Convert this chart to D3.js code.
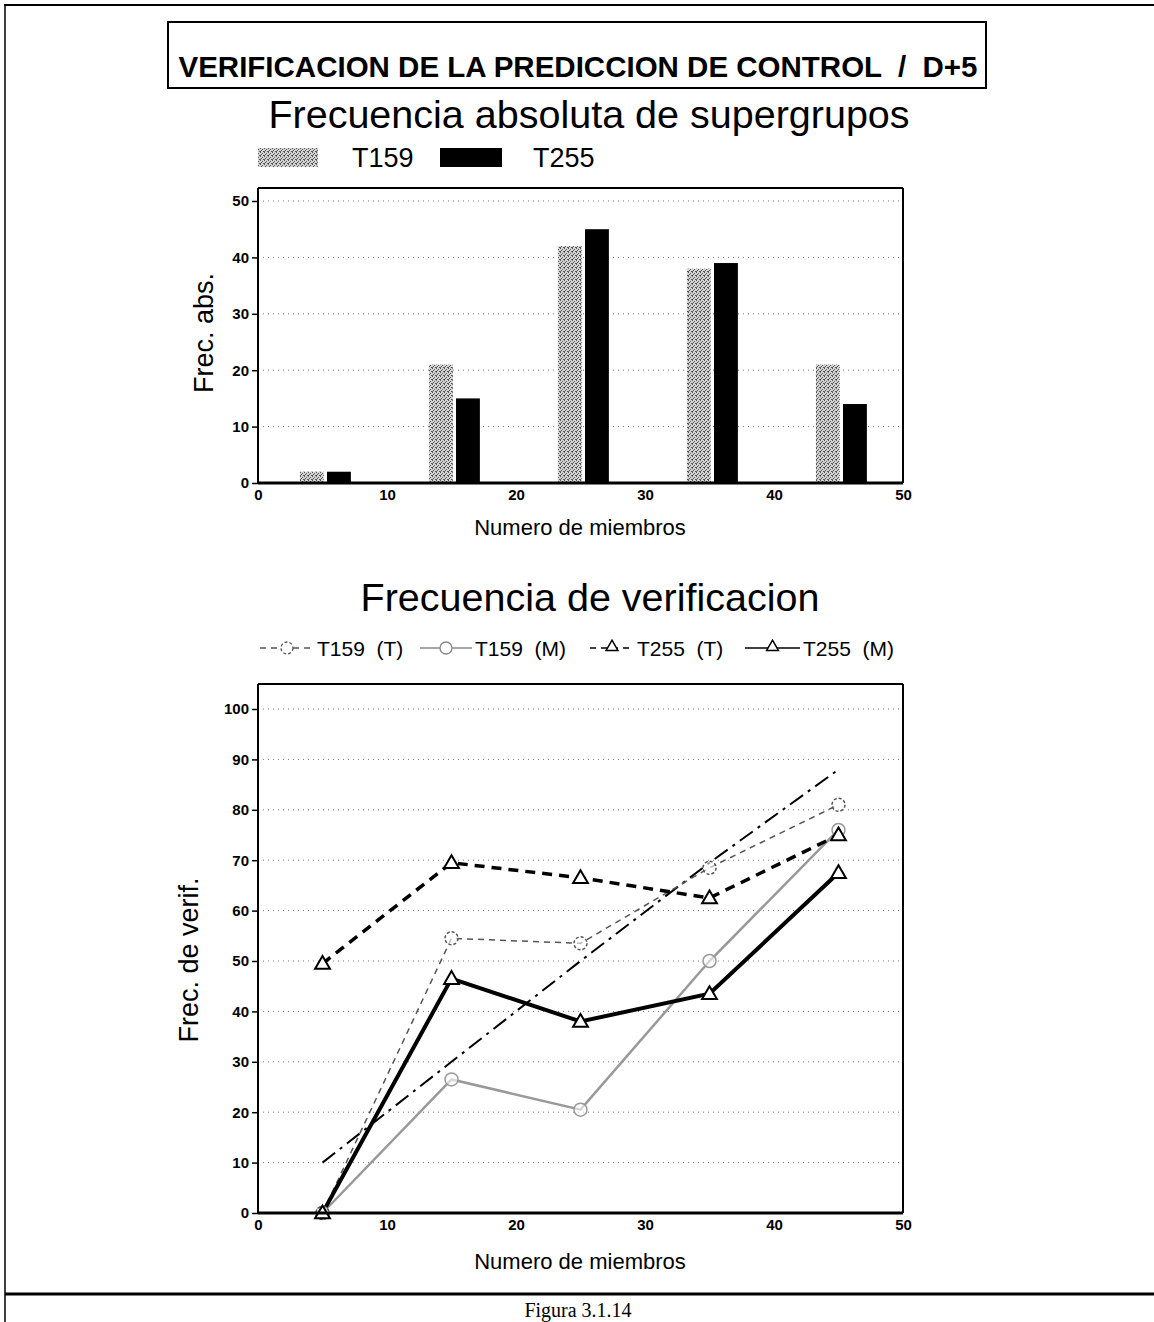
<!DOCTYPE html>
<html><head><meta charset="utf-8">
<script src="https://cdn.jsdelivr.net/npm/d3@7"></script>
<style>
html,body{margin:0;padding:0;background:#fff;}
svg text{font-family:"Liberation Sans",Arial,Helvetica,sans-serif;}
</style></head>
<body>
<script>
// ---------- DATA ----------
const memberSizes = [5, 15, 25, 35, 45];
const barT159 = [2, 21, 42, 38, 21];
const barT255 = [2, 15, 45, 39, 14];
const verT159T = [0, 54.5, 53.5, 68.5, 81];
const verT159M = [0, 26.5, 20.5, 50, 76];
const verT255T = [49.5, 69.5, 66.5, 62.5, 75];
const verT255M = [0, 46.5, 38, 43.5, 67.5];
const verRef = [10, 30, 50, 69.5, 88];
const xTicks = [0, 10, 20, 30, 40, 50];
const yTicksAbs = [0, 10, 20, 30, 40, 50];
const yTicksVer = [0, 10, 20, 30, 40, 50, 60, 70, 80, 90, 100];
const barLegend = ["T159", "T255"];
const lineLegend = ["T159  (T)", "T159  (M)", "T255  (T)", "T255  (M)"];

// ---------- SVG ----------
const W = 1154, H = 1322;
const svg = d3.select("body").append("svg").attr("width", W).attr("height", H);

const defs = svg.append("defs");
const pat = defs.append("pattern").attr("id", "stip").attr("patternUnits", "userSpaceOnUse")
  .attr("width", 4).attr("height", 4);
pat.append("rect").attr("width", 4).attr("height", 4).attr("fill", "#d4d4d4");
[[0,0],[2,1],[1,2],[3,3],[0,3]].forEach(([a,b]) =>
  pat.append("rect").attr("x", a).attr("y", b).attr("width", 1).attr("height", 1).attr("fill", "#555"));

// page frame
svg.append("line").attr("x1", 4).attr("x2", W).attr("y1", 5).attr("y2", 5).attr("stroke", "#000").attr("stroke-width", 2);
svg.append("line").attr("x1", 5).attr("x2", 5).attr("y1", 4).attr("y2", H).attr("stroke", "#000").attr("stroke-width", 1.5);
svg.append("line").attr("x1", 5).attr("x2", W).attr("y1", 1294).attr("y2", 1294).attr("stroke", "#000").attr("stroke-width", 3);
svg.append("text").attr("x", 578).attr("y", 1317).attr("text-anchor", "middle")
  .style("font-family", "'Liberation Serif','Times New Roman',serif").style("font-size", "20px")
  .text("Figura 3.1.14");

// title box
svg.append("rect").attr("x", 168).attr("y", 22).attr("width", 818).attr("height", 66)
  .attr("fill", "none").attr("stroke", "#000").attr("stroke-width", 2);
svg.append("text").attr("x", 578).attr("y", 77).attr("text-anchor", "middle")
  .style("font-size", "29.5px").style("font-weight", "bold").style("white-space", "pre")
  .text("VERIFICACION DE LA PREDICCION DE CONTROL  /  D+5");

// ---------- shared X ----------
const x = d3.scaleLinear().domain([0, 50]).range([258, 903]);

function frame(g, yTop, yBot, y, ticks) {
  g.selectAll(".grid").data(ticks.filter(d => d > 0)).join("line")
    .attr("x1", 258).attr("x2", 903).attr("y1", d => y(d)).attr("y2", d => y(d))
    .attr("stroke", "#777").attr("stroke-width", 1).attr("stroke-dasharray", "1,4");
  const ya = g.append("g").attr("transform", "translate(258,0)")
    .call(d3.axisLeft(y).tickValues(ticks).tickSize(6).tickPadding(3).tickFormat(d3.format("d")));
  ya.select(".domain").remove();
  ya.selectAll("text").style("font-size", "15px").style("font-weight", "bold")
    .style("font-family", "'Liberation Sans',Arial,sans-serif");
  ya.selectAll("line").attr("stroke-width", 1.5);
  const xa = g.append("g").attr("transform", `translate(0,${yBot})`)
    .call(d3.axisBottom(x).tickValues(xTicks).tickSize(0).tickPadding(6).tickFormat(d3.format("d")));
  xa.select(".domain").remove();
  xa.selectAll("text").style("font-size", "15px").style("font-weight", "bold")
    .style("font-family", "'Liberation Sans',Arial,sans-serif");
  g.append("line").attr("x1", 258).attr("x2", 903).attr("y1", yTop).attr("y2", yTop).attr("stroke", "#000").attr("stroke-width", 2);
  g.append("line").attr("x1", 903).attr("x2", 903).attr("y1", yTop).attr("y2", yBot).attr("stroke", "#000").attr("stroke-width", 2);
  g.append("line").attr("x1", 258).attr("x2", 258).attr("y1", yTop).attr("y2", yBot).attr("stroke", "#000").attr("stroke-width", 2);
}

// ---------- TOP CHART ----------
const gTop = svg.append("g");
gTop.append("text").attr("x", 589).attr("y", 128).attr("text-anchor", "middle")
  .style("font-size", "39.5px").text("Frecuencia absoluta de supergrupos");
gTop.append("rect").attr("x", 258).attr("y", 148).attr("width", 60).attr("height", 19).attr("fill", "url(#stip)");
gTop.append("text").attr("x", 352).attr("y", 167).style("font-size", "27px").text(barLegend[0]);
gTop.append("rect").attr("x", 440).attr("y", 148).attr("width", 62).attr("height", 19).attr("fill", "#000");
gTop.append("text").attr("x", 533).attr("y", 167).style("font-size", "27px").text(barLegend[1]);

const yA = d3.scaleLinear().domain([0, 50]).range([483, 201]);
frame(gTop, 188, 483, yA, yTicksAbs);
const bw = x(1.85) - x(0);
gTop.selectAll(".b1").data(memberSizes).join("rect")
  .attr("x", (d) => x(d - 1.75)).attr("width", bw)
  .attr("y", (d, i) => yA(barT159[i])).attr("height", (d, i) => yA(0) - yA(barT159[i]))
  .attr("fill", "url(#stip)");
gTop.selectAll(".b2").data(memberSizes).join("rect")
  .attr("x", (d) => x(d + 0.35)).attr("width", bw)
  .attr("y", (d, i) => yA(barT255[i])).attr("height", (d, i) => yA(0) - yA(barT255[i]))
  .attr("fill", "#000");
gTop.append("line").attr("x1", 258).attr("x2", 903).attr("y1", 483).attr("y2", 483).attr("stroke", "#000").attr("stroke-width", 3);
gTop.append("text").attr("transform", "translate(213,333) rotate(-90)").attr("text-anchor", "middle")
  .style("font-size", "27px").text("Frec. abs.");
gTop.append("text").attr("x", 580).attr("y", 535).attr("text-anchor", "middle")
  .style("font-size", "22px").text("Numero de miembros");

// ---------- BOTTOM CHART ----------
const gBot = svg.append("g");
gBot.append("text").attr("x", 590).attr("y", 611).attr("text-anchor", "middle")
  .style("font-size", "39.5px").text("Frecuencia de verificacion");
const yV = d3.scaleLinear().domain([0, 100]).range([1213, 709]);
frame(gBot, 684, 1213, yV, yTicksVer);

const series = [
  {vals: verRef, color: "#000", w: 2, dash: "16,6,3,6", marker: null},
  {vals: verT159M, color: "#999", w: 2.5, dash: null, marker: "circle", mdash: null},
  {vals: verT159T, color: "#555", w: 1.5, dash: "6,5", marker: "circle", mdash: "3,2"},
  {vals: verT255T, color: "#000", w: 3.5, dash: "10,7", marker: "tri"},
  {vals: verT255M, color: "#000", w: 4, dash: null, marker: "tri"}
];
const line = d3.line().x((d, i) => x(memberSizes[i])).y(d => yV(d));
series.forEach(s => {
  gBot.append("path").datum(s.vals).attr("d", line).attr("fill", "none")
    .attr("stroke", s.color).attr("stroke-width", s.w).attr("stroke-dasharray", s.dash);
});
const triPath = d3.symbol().type(d3.symbolTriangle).size(95);
series.forEach(s => {
  if (s.marker === "circle") {
    gBot.selectAll(null).data(s.vals).join("circle")
      .attr("cx", (d, i) => x(memberSizes[i])).attr("cy", d => yV(d)).attr("r", 6.5)
      .attr("fill", "#fff").attr("fill-opacity", 0.6).attr("stroke", s.color).attr("stroke-width", 1.5)
      .attr("stroke-dasharray", s.mdash);
  } else if (s.marker === "tri") {
    gBot.selectAll(null).data(s.vals).join("path")
      .attr("transform", (d, i) => `translate(${x(memberSizes[i])},${yV(d) + 1})`)
      .attr("d", triPath).attr("fill", "#fff").attr("stroke", "#000").attr("stroke-width", 2);
  }
});
gBot.append("line").attr("x1", 258).attr("x2", 903).attr("y1", 1213).attr("y2", 1213).attr("stroke", "#000").attr("stroke-width", 3);

const legItems = [
  {x0: 260, x1: 314, tx: 317, color: "#555", dash: "6,5", marker: "circle", mdash: "3,2"},
  {x0: 420, x1: 472, tx: 475, color: "#888", dash: null, marker: "circle", mdash: null},
  {x0: 590, x1: 634, tx: 637, color: "#000", dash: "6,5", marker: "tri"},
  {x0: 745, x1: 800, tx: 803, color: "#000", dash: null, marker: "tri"}
];
const ly = 648;
legItems.forEach((it, k) => {
  gBot.append("line").attr("x1", it.x0).attr("x2", it.x1).attr("y1", ly).attr("y2", ly)
    .attr("stroke", it.color).attr("stroke-width", 1.5).attr("stroke-dasharray", it.dash);
  const cx = (it.x0 + it.x1) / 2;
  if (it.marker === "circle") {
    gBot.append("circle").attr("cx", cx).attr("cy", ly).attr("r", 6).attr("fill", "#fff")
      .attr("stroke", it.color).attr("stroke-width", 1.3).attr("stroke-dasharray", it.mdash);
  } else {
    gBot.append("path").attr("transform", `translate(${cx},${ly - 1})`).attr("d", d3.symbol().type(d3.symbolTriangle).size(60))
      .attr("fill", "#fff").attr("stroke", "#000").attr("stroke-width", 1.5);
  }
  gBot.append("text").attr("x", it.tx).attr("y", ly + 8).style("font-size", "21px").style("white-space", "pre")
    .text(lineLegend[k]);
});

gBot.append("text").attr("transform", "translate(198,960) rotate(-90)").attr("text-anchor", "middle")
  .style("font-size", "27px").text("Frec. de verif.");
gBot.append("text").attr("x", 580).attr("y", 1269).attr("text-anchor", "middle")
  .style("font-size", "22px").text("Numero de miembros");
</script>
</body></html>
